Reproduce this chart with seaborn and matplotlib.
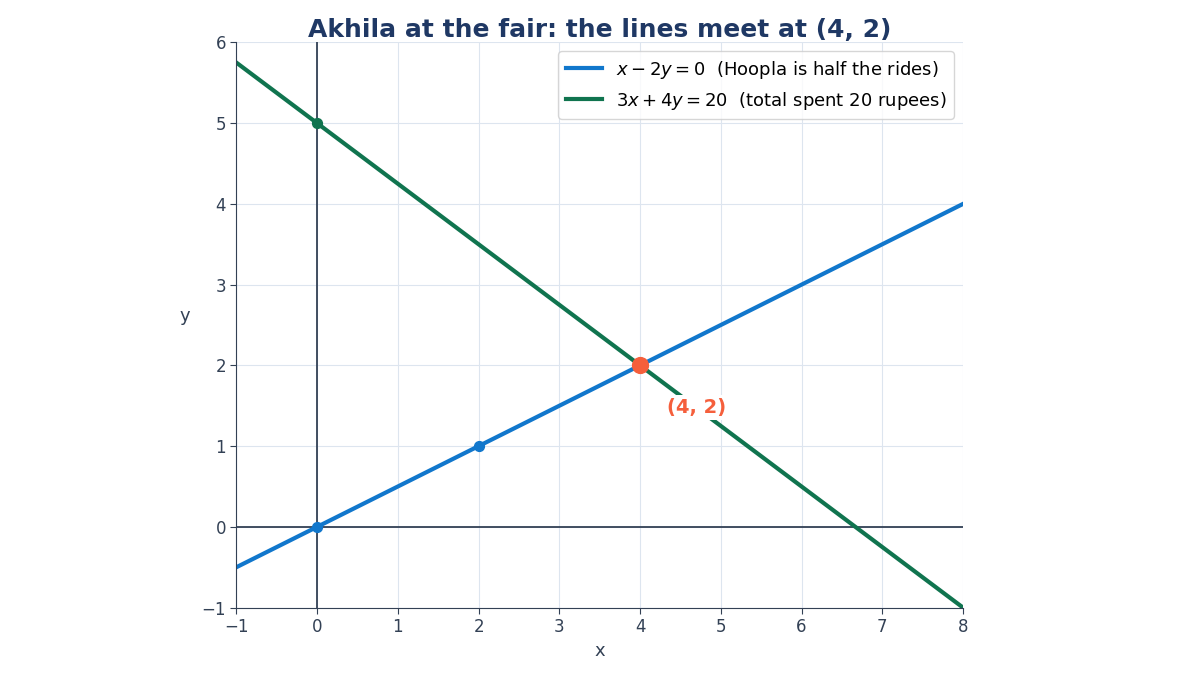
import numpy as np
import matplotlib
matplotlib.use("Agg")
import matplotlib.pyplot as plt
import seaborn as sns
import pandas as pd

x_vals = [-1, 8]
blue_y = [-0.5, 4]
green_y = [5.75, -1]
blue_pts_x = [0, 2]
blue_pts_y = [0, 1]
green_pts_x = [0]
green_pts_y = [5]
sol_x = [4]
sol_y = [2]
blue_label = r"$x - 2y = 0$  (Hoopla is half the rides)"
green_label = r"$3x + 4y = 20$  (total spent 20 rupees)"

plt.rcParams['font.family'] = ['DejaVu Sans']
plt.rcParams['font.sans-serif'] = ['DejaVu Sans']
plt.rcParams['mathtext.fontset'] = 'dejavusans'
fig = plt.figure(figsize=(12, 6.75), dpi=100)
ax = fig.add_axes([0.197, 0.099, 0.6055, 0.839])
BLUE = "#1177cc"; GREEN = "#10744f"; RED = "#f55f3c"; DARK = "#334155"

ax.grid(True, color="#dde5ef", linewidth=0.8)
ax.set_axisbelow(True)
ax.axhline(0, color=DARK, lw=1.3, zorder=1)
ax.axvline(0, color=DARK, lw=1.3, zorder=1)
sns.lineplot(x=x_vals, y=blue_y, ax=ax, color=BLUE, lw=3, label=blue_label)
sns.lineplot(x=x_vals, y=green_y, ax=ax, color=GREEN, lw=3, label=green_label)
ax.scatter(blue_pts_x, blue_pts_y, color=BLUE, s=50, zorder=4)
ax.scatter(green_pts_x, green_pts_y, color=GREEN, s=50, zorder=4)
ax.scatter(sol_x, sol_y, color=RED, s=130, zorder=5)
ax.text(sol_x[0] + 0.7, sol_y[0] - 0.52, "(4, 2)", color=RED, fontsize=14, fontweight="bold",
        ha="center", va="center", bbox=dict(facecolor="white", edgecolor="none", pad=2), zorder=6)

ax.set_xlim(-1, 8); ax.set_ylim(-1, 6)
ax.set_aspect("equal")
ax.set_xticks(range(-1, 9)); ax.set_yticks(range(-1, 7))
ax.tick_params(axis="both", colors=DARK, labelsize=12, length=4, left=True, bottom=True)
for s in ["top", "right"]:
    ax.spines[s].set_visible(False)
for s in ["left", "bottom"]:
    ax.spines[s].set_color(DARK)
ax.set_xlabel("x", fontsize=13, color=DARK)
ax.set_ylabel("y", fontsize=13, color=DARK, rotation=0, labelpad=12)
ax.set_title("Akhila at the fair: the lines meet at (4, 2)", fontsize=18, fontweight="bold",
             color="#1f3864", pad=2)
ax.legend(loc="upper right", fontsize=13, frameon=True)
fig.savefig("out.png", dpi=100)
